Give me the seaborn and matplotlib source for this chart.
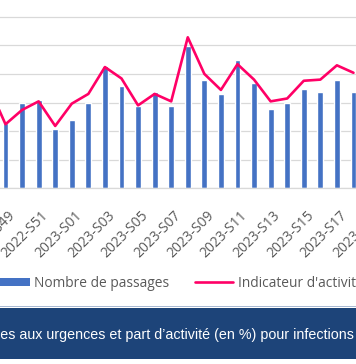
import numpy as np
import matplotlib
matplotlib.use("Agg")
import matplotlib.pyplot as plt
import matplotlib.transforms as mtransforms
from matplotlib.patches import Patch, Rectangle
from matplotlib.lines import Line2D
import seaborn as sns

# semaines (S48 2022 -> S19 2023)
weeks = ["2022-S48", "2022-S49", "2022-S50", "2022-S51", "2022-S52"] + \
        ["2023-S%02d" % k for k in range(1, 20)]

# nombre de passages (barres), S49 -> S18
bar_weeks = weeks[1:23]
passages = [114, 149, 154, 104, 119, 149, 214, 179, 144, 169, 144,
            249, 189, 164, 224, 184, 139, 149, 174, 169, 189, 169]

# indicateur d'activite en % (ligne), S48 -> S18
line_weeks = weeks[0:23]
indicateur = [1.77, 1.12, 1.37, 1.52, 1.09, 1.48, 1.65, 2.12, 1.92, 1.45, 1.65, 1.52,
              2.64, 2.00, 1.72, 2.17, 1.90, 1.52, 1.57, 1.88, 1.90, 2.15, 2.02]

tick_weeks = weeks[1::2]

legend_labels = ["Nombre de passages", "Indicateur d'activité"]
title_txt = "Nombre de passages aux urgences et part d’activité (en %) pour infections"
title_prefix = "Nombre de passag"

BLUE = "#4472C4"
PINK = "#FF0066"
GRAY_TXT = "#595959"
GRID = "#D9D9D9"
BAND = "#1D4479"

W, H = 356, 364
fig = plt.figure(figsize=(W / 100, H / 100), dpi=100)
sns.set_style("white")
plt.rcParams["font.family"] = ["Open Sans", "DejaVu Sans"]

# axes placed so that the chart is cropped like the reference
step, x0 = 16.57, -11.07
L, R = -60, 420
base, unit, nunits = 188.3, 28.6, 8
ax = fig.add_axes([L / W, (H - base) / H, (R - L) / W, nunits * unit / H])

sns.barplot(x=bar_weeks, y=passages, order=weeks, color=BLUE, saturation=1,
            width=0.35, ax=ax, zorder=2)
ax.set_ylim(0, nunits * 50)
ax.set_yticks(np.arange(0, nunits * 50 + 1, 50))
ax.yaxis.grid(True, color=GRID, lw=0.9, zorder=0)
ax.set_axisbelow(True)

ax2 = ax.twinx()
line_idx = [weeks.index(w) for w in line_weeks]
sns.lineplot(x=line_idx, y=indicateur, color=PINK, lw=1.9, ax=ax2)
ax2.set_ylim(0, nunits * 0.5)

xl = ((L - x0) / step, (R - x0) / step)
ax.set_xlim(*xl)
ax2.set_xlim(*xl)

for a in (ax, ax2):
    for s in a.spines.values():
        s.set_visible(False)
    a.set_yticklabels([])
    a.tick_params(axis="y", length=0)
    a.set_xlabel("")
    a.set_ylabel("")
ax.spines["bottom"].set_visible(True)
ax.spines["bottom"].set_color(GRID)
ax.spines["bottom"].set_linewidth(0.9)

ax.set_xticks([weeks.index(w) for w in tick_weeks])
ax.set_xticklabels(tick_weeks, rotation=45, ha="right", va="top",
                   rotation_mode="anchor", color=GRAY_TXT, fontsize=10)
ax.tick_params(axis="x", length=0, pad=14)
shift = mtransforms.ScaledTranslation(2.5 / 100, 0, fig.dpi_scale_trans)
for lbl in ax.get_xticklabels():
    lbl.set_transform(lbl.get_transform() + shift)

# legende
handles = [Patch(facecolor=BLUE, edgecolor="none"),
           Line2D([0], [0], color=PINK, lw=1.9)]
fig.legend(handles, legend_labels, loc="center left",
           bbox_to_anchor=(-9 / W, (H - 283.5) / H), ncol=2, frameon=False,
           fontsize=9.9, handlelength=2.8, handleheight=0.55,
           handletextpad=0.3, columnspacing=1.9, borderpad=0, borderaxespad=0,
           labelcolor=GRAY_TXT)

# bandeau titre
fig.add_artist(Rectangle((0, (H - 306.9) / H), 1, 0.9 / H, transform=fig.transFigure,
                         facecolor="#A9BAD3", edgecolor="none"))
fig.add_artist(Rectangle((0, (H - 359.3) / H), 1, (359.3 - 307.7) / H,
                         transform=fig.transFigure, facecolor=BAND, edgecolor="none"))
renderer = fig.canvas.get_renderer()
tmp = fig.text(0, 0, title_prefix, fontsize=10.3, family="Liberation Sans")
pw = tmp.get_window_extent(renderer).width
tmp.remove()
fig.text(-pw / W, (H - 335.5) / H, title_txt, fontsize=10.3, family="Liberation Sans",
         color="white", ha="left", va="center")

fig.savefig("out.png", dpi=100)
